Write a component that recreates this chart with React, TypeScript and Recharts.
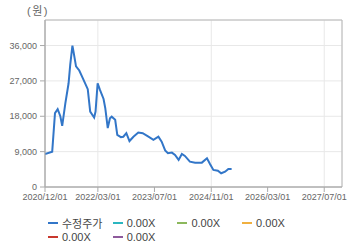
import { CartesianGrid, Legend, Line, LineChart, ReferenceArea, XAxis, YAxis } from 'recharts'

const dates = [
  '2020/12/01', '2021/02/01', '2021/02/25', '2021/03/20', '2021/04/12', '2021/04/28',
  '2021/05/25', '2021/06/22', '2021/07/06', '2021/07/25', '2021/08/03', '2021/08/25',
  '2021/09/22', '2021/10/22', '2021/12/04', '2021/12/25', '2022/01/28', '2022/02/09',
  '2022/02/27', '2022/03/19', '2022/04/19', '2022/05/04', '2022/05/25', '2022/06/13',
  '2022/06/28', '2022/07/28', '2022/08/15', '2022/09/15', '2022/10/06', '2022/11/01',
  '2022/11/28', '2023/01/01', '2023/02/12', '2023/03/22', '2023/05/10', '2023/06/22',
  '2023/08/04', '2023/09/01', '2023/10/01', '2023/10/25', '2023/11/28', '2023/12/25',
  '2024/01/25', '2024/02/22', '2024/03/19', '2024/05/01', '2024/06/15', '2024/08/12',
  '2024/09/25', '2024/10/22', '2024/11/19', '2024/12/28', '2025/01/25', '2025/02/28',
  '2025/03/28', '2025/04/25',
]
const prices = [
  8400, 9000, 18800, 19800, 18000, 15550,
  21300, 26400, 31100, 35950, 34500, 30700,
  29650, 27700, 24900, 19200, 17700, 19200,
  26400, 24700, 22400, 20000, 15000, 17500,
  17900, 17100, 13260, 12700, 12800, 13700,
  11700, 12800, 13850, 13700, 12800, 12000,
  12800, 11550, 9300, 8600, 8750, 8160,
  6900, 8400, 7900, 6460, 6200, 6200,
  7300, 5800, 4340, 4150, 3500, 3900,
  4600, 4600,
]
const xTicks = ['2020/12/01', '2022/03/01', '2023/07/01', '2024/11/01', '2026/03/01', '2027/07/01']
const xRange = ['2020/12/01', '2027/12/01']
const yTicks = [0, 9000, 18000, 27000, 36000]
const yMax = 42500
const seriesNames = ['수정주가', '0.00X', '0.00X', '0.00X', '0.00X', '0.00X']
const seriesColors = ['#3276c8', '#2bb6c0', '#8cb85c', '#f0b040', '#c8382e', '#8e5a9c']

const FONT = "'Liberation Sans', 'Noto Sans CJK KR', sans-serif"

const toTime = (d: string) => {
  const [y, m, day] = d.split('/').map(Number)
  return Date.UTC(y, m - 1, day)
}

const pad = (n: number) => (n < 10 ? `0${n}` : `${n}`)
const formatDate = (t: number) => {
  const d = new Date(t)
  return `${d.getUTCFullYear()}/${pad(d.getUTCMonth() + 1)}/${pad(d.getUTCDate())}`
}

const chartData = dates.map((d, i) => ({ t: toTime(d), s0: prices[i] }))
const domainX = xRange.map(toTime)

const UnitLabel = ({ viewBox }: any) => (
  <text
    x={viewBox.x + viewBox.width - 7}
    y={viewBox.y - 9}
    textAnchor="middle"
    dominantBaseline="central"
    fontSize={11}
    letterSpacing={1.5}
    fontFamily={FONT}
    fill="#666"
  >
    (원)
  </text>
)

// legend keeps the series order, not the default sorted one
const LegendBox = () => (
  <div style={{ position: 'relative', width: 360, height: 34, fontFamily: FONT }}>
    {seriesNames.map((name, i) => (
      <div
        key={`leg-${i}`}
        style={{
          position: 'absolute',
          left: 48 + (i % 4) * 64.7,
          top: 2 + Math.floor(i / 4) * 14,
          display: 'flex',
          alignItems: 'center',
          height: 14,
          fontSize: 11,
          color: '#444',
          whiteSpace: 'nowrap',
        }}
      >
        <span style={{ display: 'inline-block', width: 10, height: 2, background: seriesColors[i], marginRight: 4 }} />
        {name}
      </div>
    ))}
  </div>
)

const App = () => {
  return (
    <div style={{ position: 'absolute', left: 0, top: 0 }}>
      <LineChart width={360} height={248} data={chartData} margin={{ top: 20, right: 18, bottom: 0, left: 0 }}>
        <CartesianGrid stroke="#e8e8e8" />
        <XAxis
          dataKey="t"
          type="number"
          scale="time"
          domain={domainX}
          ticks={xTicks.map(toTime)}
          tickFormatter={formatDate}
          height={27}
          stroke="#aaa"
          tickSize={5}
          tickMargin={2}
          tick={{ fontSize: 9, fill: '#666', fontFamily: FONT }}
          allowDataOverflow
        />
        <YAxis
          type="number"
          domain={[0, yMax]}
          ticks={yTicks}
          tickFormatter={(v: number) => v.toLocaleString('en-US')}
          width={45}
          stroke="#aaa"
          tickSize={5}
          tickMargin={3}
          tick={{ fontSize: 9, fill: '#666', fontFamily: FONT }}
          label={<UnitLabel />}
          allowDataOverflow
        />
        <ReferenceArea x1={domainX[0]} x2={domainX[1]} y1={0} y2={yMax} fill="none" stroke="#b8b8b8" />
        {seriesNames.map((name, i) => (
          <Line
            key={`s${i}`}
            dataKey={`s${i}`}
            name={name}
            stroke={seriesColors[i]}
            strokeWidth={2}
            dot={false}
            type="linear"
            isAnimationActive={false}
          />
        ))}
        <Legend
          verticalAlign="bottom"
          height={34}
          content={<LegendBox />}
          wrapperStyle={{ left: 0, width: 360 }}
        />
      </LineChart>
    </div>
  )
}

export default App
